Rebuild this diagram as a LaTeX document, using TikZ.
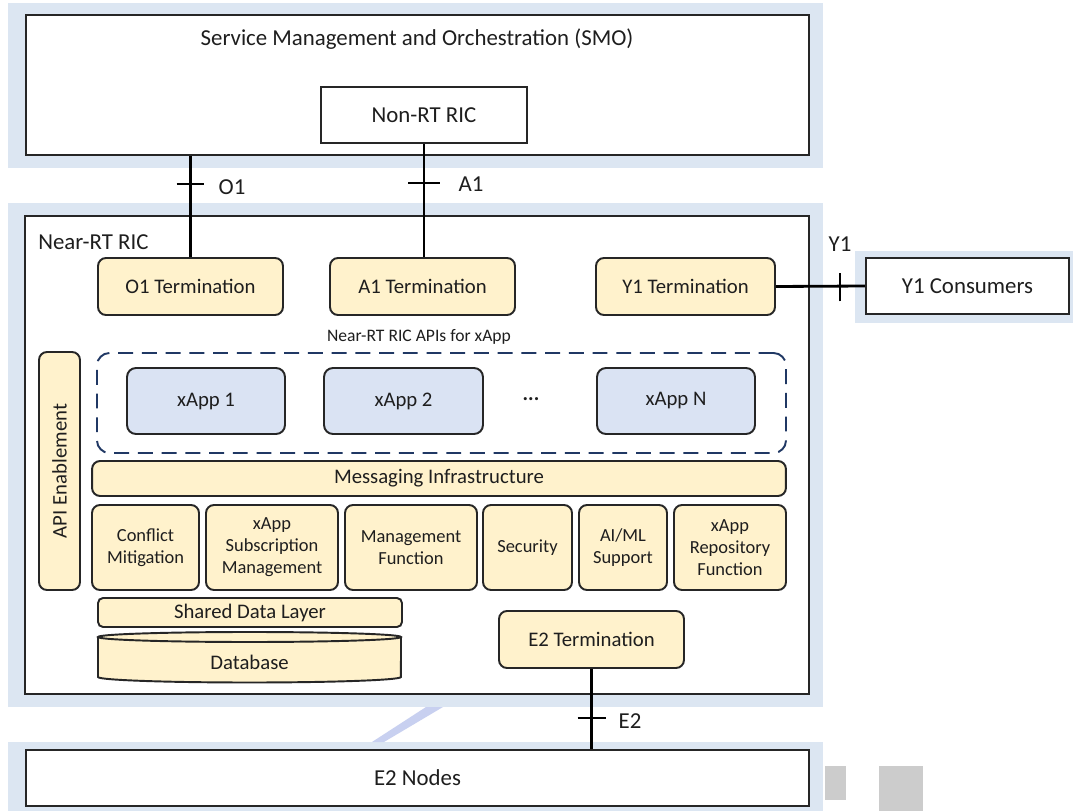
\documentclass[tikz,border=0pt]{standalone}
\usepackage{fontspec}
\setmainfont{Carlito}
\usetikzlibrary{fit}
\definecolor{band}{HTML}{DCE6F2}
\definecolor{ylw}{HTML}{FFF2CC}
\definecolor{xap}{HTML}{DAE3F3}
\definecolor{navy}{HTML}{203864}
\definecolor{edge}{HTML}{262626}
\definecolor{txt}{HTML}{1E1E1E}
\definecolor{grayblk}{HTML}{CCCCCC}
\definecolor{diag}{HTML}{C8D0F0}
\tikzset{
  tthirteen/.style={font=\fontsize{13}{15.6}\selectfont, text=txt},
  ttwelve/.style={font=\fontsize{11.8}{14}\selectfont, text=txt},
  tsmall/.style={font=\fontsize{10.5}{12.6}\selectfont, text=txt},
  tapi/.style={font=\fontsize{10}{12}\selectfont, text=txt},
  obox/.style={draw=edge, line width=1.4pt, fill=white, inner sep=0pt},
  rbox/.style={draw=edge, line width=1.1pt, fill=ylw, rounded corners=0.16cm, inner sep=0pt, align=center},
  xbox/.style={draw=edge, line width=1.1pt, fill=xap, rounded corners=0.18cm, inner sep=0pt, align=center},
  conn/.style={draw=black, line width=1.6pt},
  tick/.style={draw=black, line width=1.3pt},
  sz/.style 2 args={minimum width=#1cm, minimum height=#2cm}
}
\begin{document}
\begin{tikzpicture}[x=0.02cm,y=-0.02cm]
\useasboundingbox (0,0) rectangle (1073,811);
\fill[white] (0,0) rectangle (1073,811);
% light blue bands
\fill[band] (8,3) rectangle (823,168);
\fill[band] (8,203) rectangle (823,707);
\fill[band] (855,251) rectangle (1073,323);
\fill[band] (8,742) rectangle (823,811);
\fill[diag] (426,707) -- (443,707) -- (384,742) -- (372,742) -- cycle;
\fill[grayblk] (825,766) rectangle (846,800);
\fill[grayblk] (879,766) rectangle (923,811);

% SMO
\node[obox, fit={(26,15)(809,155)}] (smo) {};
\node[tthirteen] (smotitle) at (417,39) {Service Management and Orchestration (SMO)};
\node[obox, tthirteen, sz={4.12}{1.12}] (nonrt) at (424,115) {Non-RT RIC};

% Near-RT RIC
\node[obox, fit={(25,216)(809,694)}] (near) {};
\node[tthirteen, anchor=west, inner sep=0pt] (neartitle) at (38,242) {Near-RT RIC};

\node[rbox, ttwelve, sz={3.7}{1.14}] (o1t) at (190.5,286.5) {O1 Termination};
\node[rbox, ttwelve, sz={3.7}{1.14}] (a1t) at (422.5,286.5) {A1 Termination};
\node[rbox, ttwelve, sz={3.58}{1.14}] (y1t) at (685.5,286.5) {Y1 Termination};

\node[obox, tthirteen, sz={4.06}{1.12}] (y1c) at (967.5,286) {Y1 Consumers};

\node[tapi] (apis) at (419,337) {Near-RT RIC APIs for xApp};
\node[draw=navy, line width=1.1pt, dash pattern=on 8.5pt off 5pt, rounded corners=0.25cm, inner sep=0pt, fit={(97,353)(786,453)}] (xapps) {};
\node[xbox, ttwelve, sz={3.16}{1.32}] (xa1) at (206,401) {xApp 1};
\node[xbox, ttwelve, sz={3.18}{1.32}] (xa2) at (403.5,401) {xApp 2};
\node[ttwelve] (dots) at (531,399) {\textbf{...}};
\node[xbox, ttwelve, sz={3.16}{1.32}] (xan) at (676,401) {xApp N};

\node[rbox, fit={(39,352)(80,590)}] (api) {};
\node[ttwelve, rotate=90] (apitext) at (api.center) {API Enablement};

\node[rbox, ttwelve, sz={13.88}{0.7}] (msg) at (439,478.5) {Messaging Infrastructure};

\node[rbox, tsmall, sz={2.14}{1.7}] (conf) at (145.5,547.5) {Conflict\\Mitigation};
\node[rbox, tsmall, sz={2.64}{1.7}] (sub) at (272,547.5) {xApp\\Subscription\\Management};
\node[rbox, tsmall, sz={2.64}{1.7}] (mgmt) at (411,547.5) {Management\\Function};
\node[rbox, tsmall, sz={1.78}{1.7}] (sec) at (527.5,547.5) {Security};
\node[rbox, tsmall, sz={1.76}{1.7}] (aiml) at (623,547.5) {AI/ML\\Support};
\node[rbox, tsmall, sz={2.24}{1.7}] (repo) at (730,547.5) {xApp\\Repository\\Function};

\node[rbox, ttwelve, rounded corners=0.1cm, sz={6.08}{0.58}] (sdl) at (250,612.5) {Shared Data Layer};

% database cylinder
\fill[ylw] (98,637) -- (98,677) arc[start angle=180, end angle=360, x radius=3.03cm, y radius=0.11cm] -- (401,637) -- cycle;
\draw[edge, line width=1.1pt] (98,637) -- (98,677) arc[start angle=180, end angle=360, x radius=3.03cm, y radius=0.11cm] -- (401,637);
\draw[edge, line width=1.1pt, fill=ylw] (249.5,637) ellipse [x radius=3.03cm, y radius=0.1cm];
\node[ttwelve] (db) at (249.5,662) {Database};

\node[rbox, ttwelve, sz={3.7}{1.14}] (e2t) at (591.5,639.5) {E2 Termination};

% E2 nodes
\node[obox, tthirteen, sz={15.66}{1.12}] (e2n) at (417.5,778) {E2 Nodes};

% connectors
\draw[conn] (o1t.north) -- (o1t.north |- smo.south);
\draw[conn] (nonrt.south) -- (nonrt.south |- a1t.north);
\draw[conn] (y1t.east) -- (y1c.west);
\draw[conn] (e2t.south) -- (e2t.south |- e2n.north);

% interface ticks
\coordinate (o1tk) at (190.5,184);
\coordinate (a1tk) at (424,183);
\coordinate (y1tk) at (840,287);
\coordinate (e2tk) at (591.5,718);
\draw[tick] ([xshift=-0.28cm]o1tk) -- ([xshift=0.28cm]o1tk);
\draw[tick] ([xshift=-0.32cm]a1tk) -- ([xshift=0.32cm]a1tk);
\draw[tick] ([yshift=-0.29cm]y1tk) -- ([yshift=0.29cm]y1tk);
\draw[tick] ([xshift=-0.28cm]e2tk) -- ([xshift=0.28cm]e2tk);

\node[tthirteen] (o1lab) at (232,187) {O1};
\node[tthirteen] (a1lab) at (471,184) {A1};
\node[tthirteen] (y1lab) at (840,244) {Y1};
\node[tthirteen] (e2lab) at (630,721) {E2};
\end{tikzpicture}
\end{document}
